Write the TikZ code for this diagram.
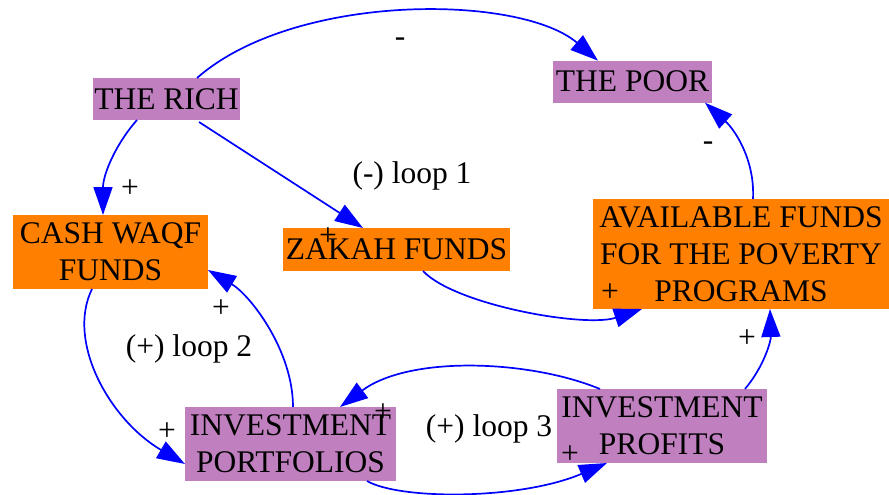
\documentclass[tikz,border=0pt]{standalone}
\usepackage{fontspec}
\setmainfont{Liberation Serif}
\usetikzlibrary{arrows.meta}
\definecolor{vpurple}{RGB}{192,128,192}
\definecolor{vorange}{RGB}{255,128,0}
\definecolor{vblue}{RGB}{0,0,255}
\tikzset{
  txt/.style={font=\fontsize{31.5}{37}\selectfont, text=black, align=center, inner sep=0pt},
  box/.style={txt, outer sep=0pt},
  pbox/.style={box, fill=vpurple},
  obox/.style={box, fill=vorange},
  link/.style={draw=vblue, line width=1.7pt, -{Triangle[length=28pt,width=19pt]}},
  sign/.style={txt},
}
\begin{document}
\begin{tikzpicture}[x=1pt,y=-1pt]
\useasboundingbox (0,0) rectangle (889,495);
% boxes
\node[pbox, minimum width=147pt, minimum height=42pt] (rich) at (166.5,99) {THE RICH};
\node[pbox, minimum width=159pt, minimum height=42pt] (poor) at (632.5,81.7) {THE POOR};
\node[obox, minimum width=195pt, minimum height=74pt] (cash) at (110.5,252) {CASH WAQF\\FUNDS};
\node[obox, minimum width=227pt, minimum height=43pt] (zakah) at (396.5,249.5) {ZAKAH FUNDS};
\node[obox, minimum width=296pt, minimum height=110pt] (avail) at (741,254) {AVAILABLE FUNDS\\FOR THE POVERTY\\PROGRAMS};
\node[pbox, minimum width=211pt, minimum height=74pt] (port) at (290.5,444) {INVESTMENT\\PORTFOLIOS};
\node[pbox, minimum width=210pt, minimum height=74pt] (prof) at (662,426) {INVESTMENT\\PROFITS};
% connectors
\draw[link] ([xshift=30.5pt]rich.north) .. controls (295,-8) and (520,-6) .. ([xshift=-34.5pt]poor.north);
\draw[link] ([xshift=-29.5pt]rich.south) .. controls (115,145) and (103,175) .. ([xshift=-7.5pt]cash.north);
\draw[link] ([xshift=32.5pt,yshift=-2pt]rich.south) -- ([xshift=-33.5pt]zakah.north);
\draw[link] ([xshift=26.5pt]zakah.south) .. controls (455,305) and (585,328) .. ([xshift=-99pt]avail.south);
\draw[link] ([xshift=12pt]avail.north) .. controls (755,160) and (735,130) .. ([xshift=72.5pt]poor.south);
\draw[link] ([xshift=-18.5pt]cash.south) .. controls (66,342) and (110,420) .. ([yshift=-20pt]port.west);
\draw[link] ([xshift=2.5pt]port.north) .. controls (293,350) and (250,295) .. ([yshift=-18pt]cash.east);
\draw[link] ([xshift=-62pt]prof.north) .. controls (530,360) and (410,355) .. ([xshift=49.5pt]port.north);
\draw[link] ([xshift=76.5pt]port.south) .. controls (400,500) and (520,500) .. ([xshift=-55pt]prof.south);
\draw[link] ([xshift=83pt]prof.north) .. controls (765,365) and (771,340) .. ([xshift=29pt]avail.south);
% signs
\node[sign] (s1) at (400,42) {-};
\node[sign] (s2) at (130,189) {+};
\node[sign] (s3) at (328,237) {+};
\node[sign] (s4) at (610,293) {+};
\node[sign] (s5) at (708,146) {-};
\node[sign] (s6) at (167,432) {+};
\node[sign] (s7) at (221,309) {+};
\node[sign] (s8) at (383,413) {+};
\node[sign] (s9) at (570,455) {+};
\node[sign] (s10) at (747,339) {+};
% loop labels
\node[txt] (l1) at (412,176) {(-) loop 1};
\node[txt] (l2) at (189,349) {(+) loop 2};
\node[txt] (l3) at (489,429) {(+) loop 3};
\end{tikzpicture}
\end{document}
